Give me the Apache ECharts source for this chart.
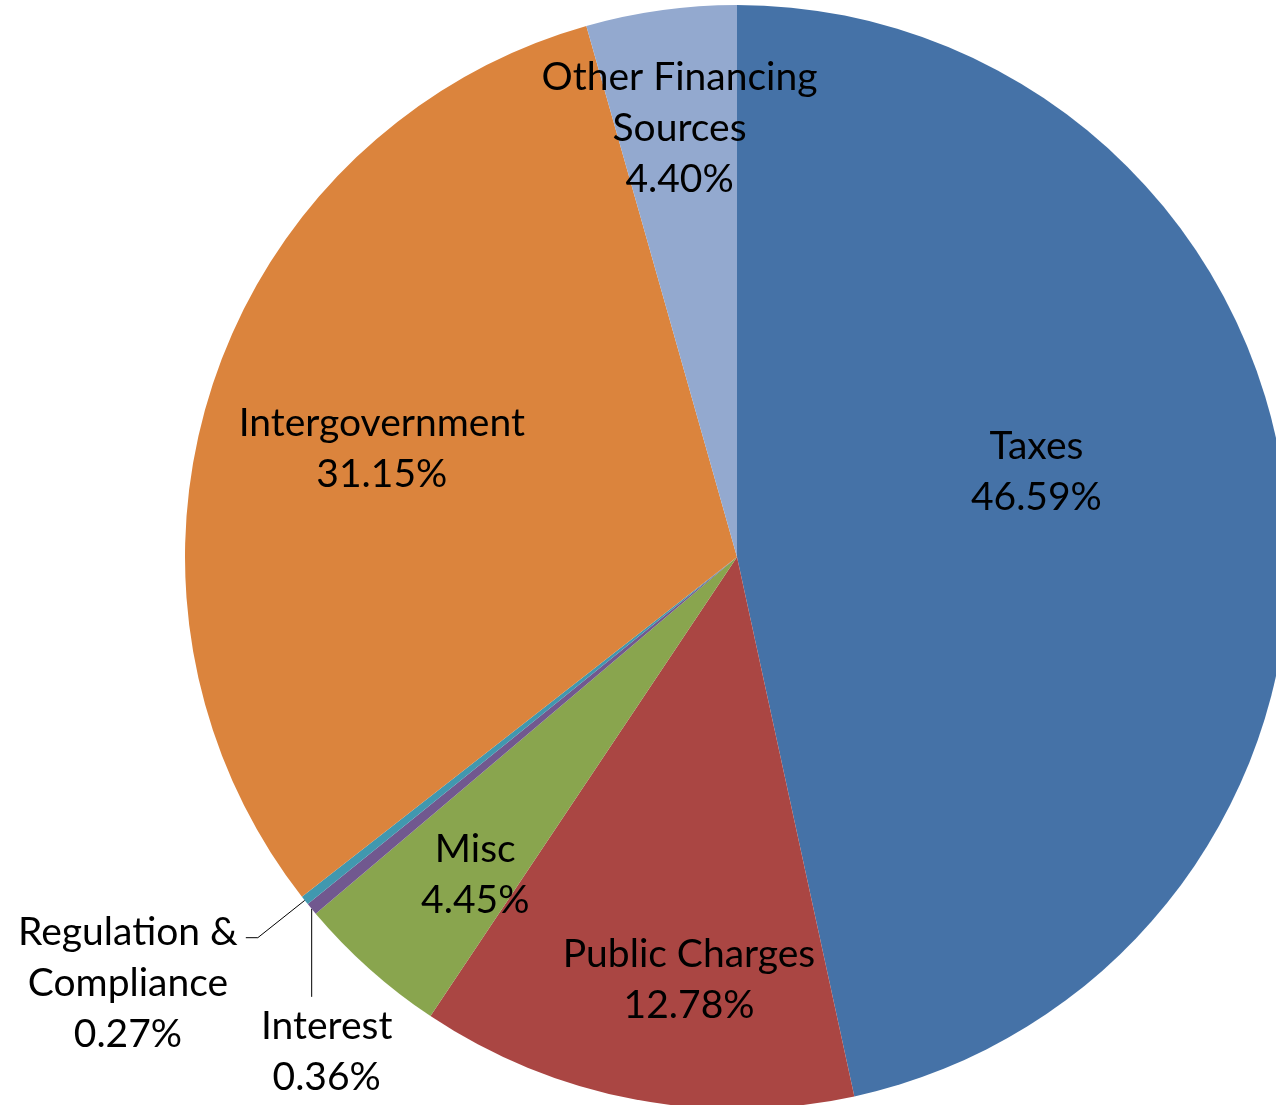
<!DOCTYPE html>
<html>
<head>
<meta charset="utf-8">
<script src="https://cdn.jsdelivr.net/npm/echarts@6/dist/echarts.min.js"></script>
<style>
  html, body { margin: 0; padding: 0; background: #fff; }
  #chart { width: 1276px; height: 1105px; }
</style>
</head>
<body>
<div id="chart"></div>
<script>
// Data (clockwise from 12 o'clock)
const categories = ['Taxes', 'Public Charges', 'Misc', 'Interest', 'Regulation &\nCompliance', 'Intergovernment', 'Other Financing\nSources'];
const percentages = [46.59, 12.78, 4.45, 0.36, 0.27, 31.15, 4.40];

// Styles
const colors = ['#4572A7', '#AA4643', '#89A54E', '#71588F', '#4198AF', '#DB843D', '#93A9CF'];
const outsideLabels = [false, false, false, true, true, false, false];
// label nudges (px) from ECharts' default inner label position
const insideNudge = [[22, -55], [4, 149], [-76, 110], [0, 0], [0, 0], [-90, -21], [-19, -152]];

const chart = echarts.init(document.getElementById('chart'), null, { renderer: 'canvas' });

const data = categories.map((name, i) => {
  const item = { name: name, value: percentages[i], itemStyle: { color: colors[i] } };
  if (outsideLabels[i]) {
    item.label = { position: 'outside' };
    item.labelLine = { show: true, length: 60, length2: 12 };
  }
  return item;
});

chart.setOption({
  animation: false,
  backgroundColor: '#ffffff',
  series: [{
    type: 'pie',
    center: ['737px', '557px'],
    radius: 552,
    startAngle: 90,
    clockwise: true,
    avoidLabelOverlap: false,
    data: data,
    itemStyle: { borderWidth: 0 },
    label: {
      show: true,
      position: 'inside',
      color: '#000000',
      fontFamily: 'Lato',
      fontSize: 39,
      lineHeight: 51,
      formatter: p => p.name + '\n' + p.value.toFixed(2) + '%'
    },
    labelLine: {
      show: false,
      lineStyle: { color: '#000000', width: 1 }
    },
    labelLayout: function (p) {
      const i = p.dataIndex;
      const r = p.labelRect;
      if (!outsideLabels[i]) {
        return {
          x: r.x + r.width / 2 + insideNudge[i][0],
          y: r.y + r.height / 2 + insideNudge[i][1],
          align: 'center',
          verticalAlign: 'middle'
        };
      }
      const pts = p.labelLinePoints;
      if (!pts) return {};
      if (categories[i] === 'Interest') {
        const start = pts[0];
        const end = [start[0], start[1] + 88];
        return {
          x: start[0] + 15,
          y: end[1] + 4,
          align: 'center',
          verticalAlign: 'top',
          labelLinePoints: [start, end]
        };
      }
      const end = pts[pts.length - 1];
      return {
        x: end[0] - 8 - r.width / 2,
        y: end[1] + 46,
        align: 'center',
        verticalAlign: 'middle',
        labelLinePoints: pts
      };
    }
  }]
});
</script>
</body>
</html>
